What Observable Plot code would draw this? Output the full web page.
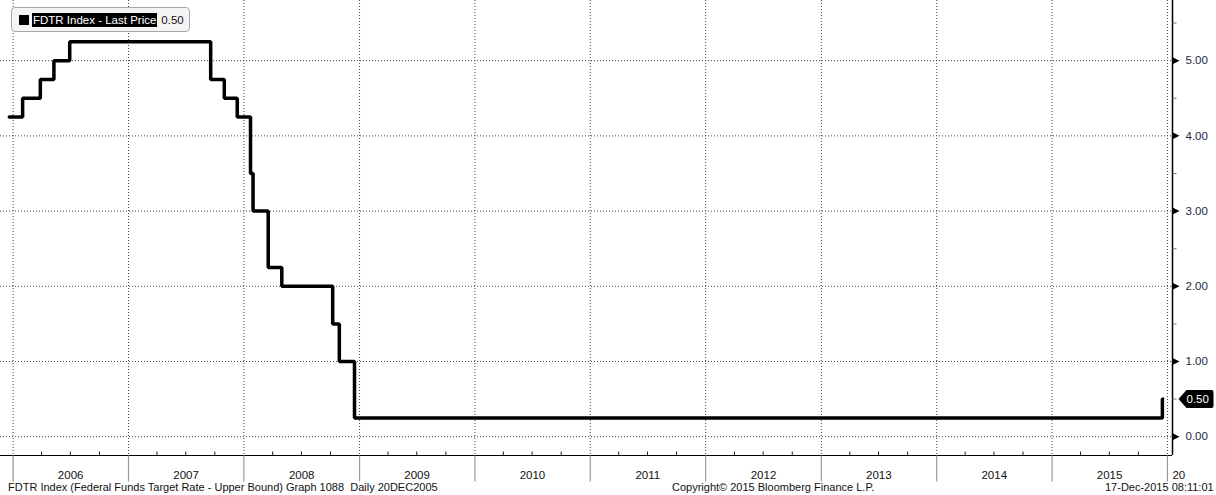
<!DOCTYPE html>
<html><head><meta charset="utf-8">
<script src="https://cdn.jsdelivr.net/npm/d3@7"></script>
<script src="https://cdn.jsdelivr.net/npm/@observablehq/plot@0.6"></script>
<style>
body{margin:0;background:#fff;font-family:"Liberation Sans",Arial,sans-serif;}
#wrap{position:relative;width:1216px;height:495px;overflow:hidden;background:#fff;}
#legend{position:absolute;left:11px;top:7px;width:179px;height:25px;border:1px solid #a8a8a8;border-radius:4px;background:#f4f4f4;box-sizing:border-box;font-size:11.5px;display:flex;align-items:center;padding-left:7px;}
#legend .sw{width:10px;height:10px;background:#000;margin-right:3px;}
#legend .lab{background:#000;color:#fff;padding:0 1px;line-height:14px;}
#legend .val{margin-left:4px;color:#111;}
#footer{position:absolute;top:481px;left:0;width:1216px;height:14px;font-size:11px;color:#111;white-space:pre;}
#footer span{position:absolute;top:0;white-space:pre;}
</style>
</head><body>
<div id="wrap">
  <div id="chart"></div>
  <div id="legend"><div class="sw"></div><span class="lab"></span><span class="val"></span></div>
  <div id="footer"><span id="fl" style="left:8px"></span><span id="fm" style="left:672px"></span><span id="fr" style="left:1105px"></span></div>
</div>
<script>
// ---- data ----
const changeDates = ["2005-12-20","2006-01-31","2006-03-28","2006-05-10","2006-06-29","2007-09-18","2007-10-31","2007-12-11","2008-01-22","2008-01-30","2008-03-18","2008-04-30","2008-10-08","2008-10-29","2008-12-16","2015-12-16","2015-12-17"];
const rates = [4.25,4.50,4.75,5.00,5.25,4.75,4.50,4.25,3.50,3.00,2.25,2.00,1.50,1.00,0.25,0.50,0.50];
const yTicks = [0,1,2,3,4,5];
const yMinorTicks = [0.5,1.5,2.5,3.5,4.5,5.5];
const years = [2006,2007,2008,2009,2010,2011,2012,2013,2014,2015];
const boundaryYears = [2006,2007,2008,2009,2010,2011,2012,2013,2014,2015,2016];
const cutLabelYear = "2016";
const legendLabel = "FDTR Index - Last Price";
const footerLeft = "FDTR Index (Federal Funds Target Rate - Upper Bound) Graph 1088  Daily 20DEC2005";
const footerMid = "Copyright\u00A9 2015 Bloomberg Finance L.P.";
const footerRight = "17-Dec-2015 08:11:01";

const series = changeDates.map((d,i)=>({date:new Date(d), rate:rates[i]}));
const last = series[series.length-1];
const xStart = new Date("2005-11-22"), xEnd = new Date("2016-01-17");
const yMin = -0.25, yMax = 5.8;

const yearStarts = boundaryYears.map(y=>new Date(Date.UTC(y,0,1)));
const yearMids = years.map(y=>({date:new Date(Date.UTC(y,6,2)), label:String(y)}));
const quarters = [];
for (const y of years) for (const m of [3,6,9]) quarters.push(new Date(Date.UTC(y,m,1)));

// custom symbols
const tickUp = {draw(c){c.moveTo(0,0);c.lineTo(0,-4);}};
const tickDown = {draw(c){c.moveTo(0,0);c.lineTo(0,26);}};
const tickRight = {draw(c){c.moveTo(0,0);c.lineTo(4,0);}};
const arrowRight = {draw(c){c.moveTo(0,-3.5);c.lineTo(7,0);c.lineTo(0,3.5);c.closePath();}};
const tag = {draw(c){c.moveTo(0,0);c.lineTo(8,-9);c.lineTo(33,-9);c.quadraticCurveTo(35,-9,35,-7);c.lineTo(35,7);c.quadraticCurveTo(35,9,33,9);c.lineTo(8,9);c.closePath();}};

const ends = yTicks.map(v=>({x:xEnd, y:v}));
const minors = yMinorTicks.map(v=>({x:xEnd, y:v}));

const chart = Plot.plot({
  width:1216, height:481,
  marginLeft:0, marginRight:44, marginTop:0, marginBottom:26,
  style:{fontFamily:'"Liberation Sans",Arial,sans-serif', fontSize:"11px", background:"#fff", overflow:"visible"},
  x:{type:"utc", domain:[xStart,xEnd], axis:null},
  y:{domain:[yMin,yMax], axis:null},
  marks:[
    Plot.ruleY(yTicks, {stroke:"#444", strokeDasharray:"1,2", strokeWidth:1}),
    Plot.ruleX(yearStarts, {stroke:"#444", strokeDasharray:"1,2", strokeWidth:1}),
    // bottom axis line
    Plot.ruleY([yMin], {stroke:"#000", strokeWidth:1.2}),
    Plot.dot(quarters, {x:d=>d, y:()=>yMin, symbol:tickUp, stroke:"#222", fill:"none", strokeWidth:1}),
    Plot.dot(yearStarts, {x:d=>d, y:()=>yMin, symbol:tickDown, stroke:"#999", fill:"none", strokeWidth:1.2}),
    Plot.text(yearMids, {x:"date", y:()=>yMin, text:"label", dy:20, fill:"#111", fontSize:11.5}),
    Plot.text([cutLabelYear], {x:()=>yearStarts[yearStarts.length-1], y:()=>yMin, text:d=>d.slice(0,2), dy:20, dx:5, textAnchor:"start", fill:"#111", fontSize:11.5}),
    // right axis
    Plot.ruleX([xEnd], {stroke:"#000", strokeWidth:1.5}),
    Plot.dot(minors, {x:"x", y:"y", symbol:tickRight, stroke:"#777", fill:"none", strokeWidth:1}),
    Plot.dot(ends, {x:"x", y:"y", symbol:arrowRight, fill:"#000", stroke:"none"}),
    Plot.text(ends, {x:"x", y:"y", text:d=>d.y.toFixed(2), dx:13, textAnchor:"start", fill:"#1c2846", fontSize:11.5}),
    // line
    Plot.line(series, {x:"date", y:"rate", curve:"step-after", stroke:"#000", strokeWidth:3.5, strokeLinejoin:"miter"}),
    // last value tag
    Plot.dot([last], {x:()=>xEnd, y:"rate", symbol:tag, fill:"#000", stroke:"none", dx:6}),
    Plot.text([last], {x:()=>xEnd, y:"rate", text:d=>d.rate.toFixed(2), dx:14, textAnchor:"start", fill:"#fff", fontSize:11.5})
  ]
});
document.getElementById("chart").appendChild(chart);
document.querySelector("#legend .lab").textContent = legendLabel;
document.querySelector("#legend .val").textContent = last.rate.toFixed(2);
document.getElementById("fl").textContent = footerLeft;
document.getElementById("fm").textContent = footerMid;
document.getElementById("fr").textContent = footerRight;
</script>
</body></html>
